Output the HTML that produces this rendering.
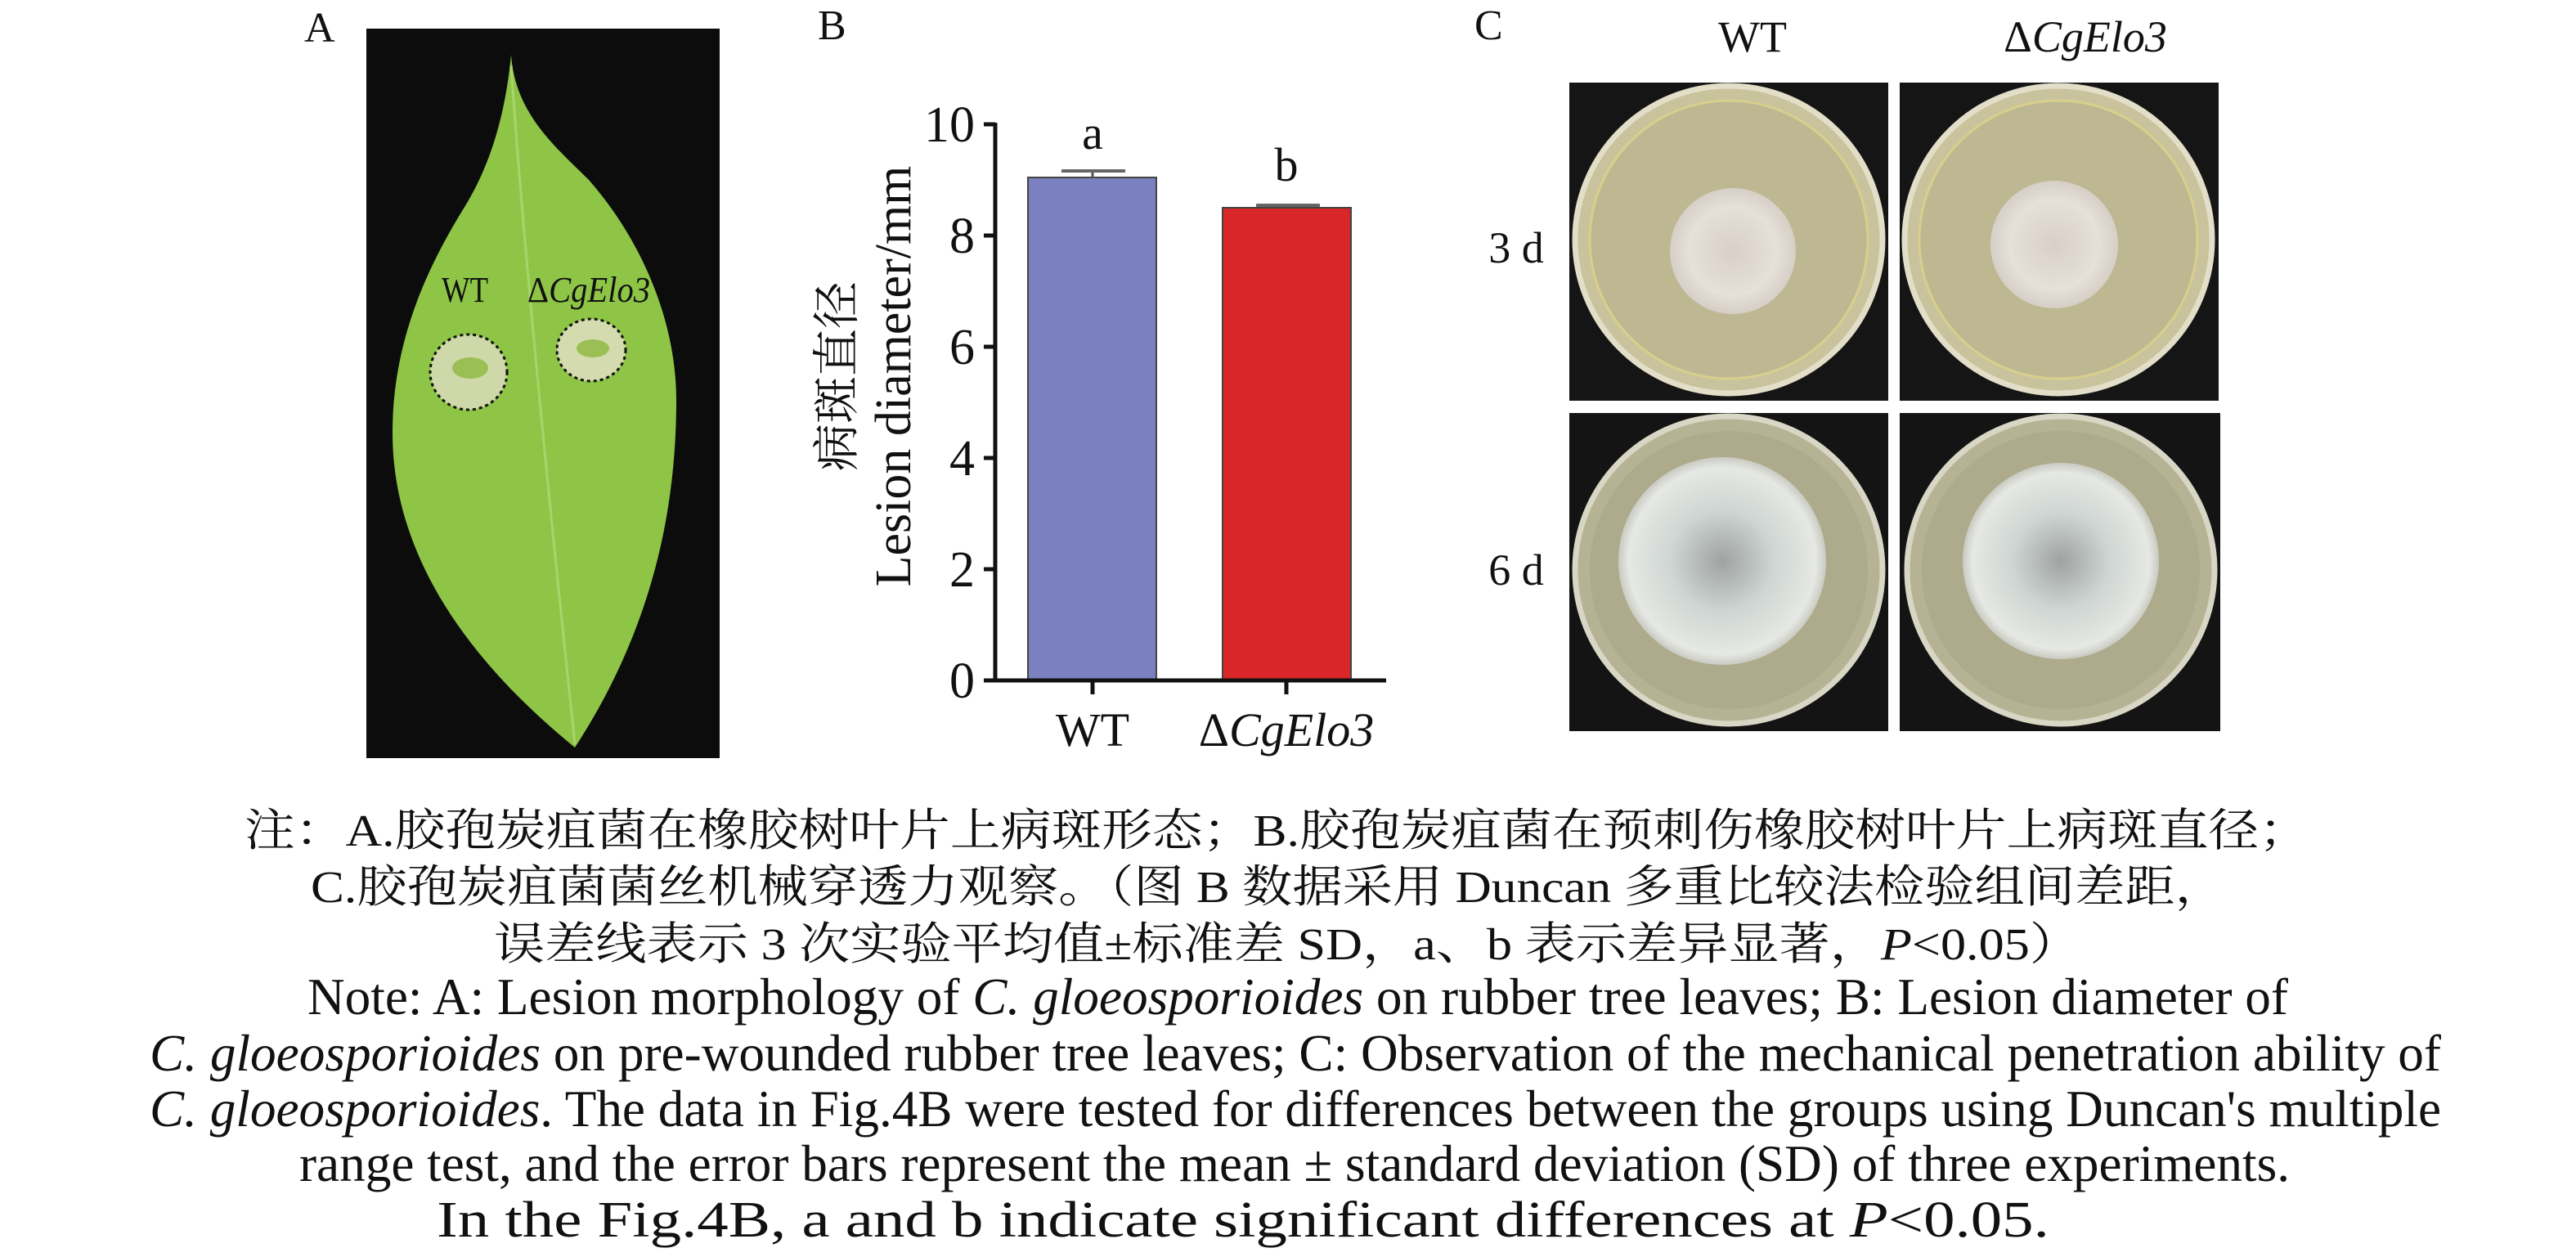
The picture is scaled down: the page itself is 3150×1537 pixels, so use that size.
<!DOCTYPE html>
<html><head><meta charset="utf-8"><style>
html,body{margin:0;padding:0;background:#fff}
svg{display:block}
text{font-family:"Liberation Serif","Noto Serif CJK SC","Noto Sans CJK SC",serif;fill:#111}
</style></head><body>
<svg width="3150" height="1537" viewBox="0 0 3150 1537" xmlns="http://www.w3.org/2000/svg">
<defs>
<radialGradient id="col" cx="50%" cy="50%" r="50%">
<stop offset="0" stop-color="#d8cfc8"/><stop offset="0.7" stop-color="#e6e0da"/><stop offset="1" stop-color="#d6cfc6"/>
</radialGradient>
<radialGradient id="col6" cx="50%" cy="50%" r="50%">
<stop offset="0" stop-color="#9fa3a2"/><stop offset="0.5" stop-color="#cfd6d3"/><stop offset="0.9" stop-color="#e6e8e4"/><stop offset="1" stop-color="#c9cbc2"/>
</radialGradient>
</defs>
<!-- Panel labels -->
<text x="372" y="51" font-size="52">A</text>
<text x="1000" y="48" font-size="52">B</text>
<text x="1803" y="48" font-size="52">C</text>

<!-- Leaf photo -->
<rect x="448" y="35" width="432" height="892" fill="#0c0c0c"/>
<path d="M625,67 C630,140 680,180 720,220 C790,300 827,400 827,489 C827,640 790,780 703,914 C600,830 480,700 480,529 C480,420 520,330 570,250 C600,200 618,140 625,67 Z" fill="#8ec546"/>
<path d="M625,80 C640,300 670,600 703,910" stroke="#a6d56a" stroke-width="3" fill="none"/>
<ellipse cx="573" cy="455" rx="47" ry="46" fill="#cfd8a8" stroke="#111" stroke-width="3" stroke-dasharray="4 4"/>
<ellipse cx="575" cy="450" rx="22" ry="13" fill="#9bbf55"/>
<ellipse cx="723" cy="428" rx="42" ry="38" fill="#d4dcaf" stroke="#111" stroke-width="3" stroke-dasharray="4 4"/>
<ellipse cx="725" cy="426" rx="20" ry="11" fill="#9bbf55"/>
<text x="540" y="369" font-size="44" textLength="57" lengthAdjust="spacingAndGlyphs">WT</text>
<text x="645" y="369" font-size="44" textLength="150" lengthAdjust="spacingAndGlyphs">Δ<tspan font-style="italic">CgElo3</tspan></text>

<!-- Bar chart -->
<rect x="1257" y="217" width="157" height="615" fill="#7b80c1" stroke="#444" stroke-width="2"/>
<rect x="1495" y="254" width="157" height="578" fill="#d92628" stroke="#444" stroke-width="2"/>
<line x1="1336" y1="217" x2="1336" y2="209" stroke="#555" stroke-width="3"/>
<line x1="1298" y1="209" x2="1376" y2="209" stroke="#666" stroke-width="4"/>
<line x1="1536" y1="251" x2="1614" y2="251" stroke="#666" stroke-width="4"/>
<g stroke="#111" stroke-width="5">
<line x1="1217" y1="150" x2="1217" y2="834"/>
<line x1="1203" y1="832" x2="1695" y2="832"/>
<line x1="1203" y1="152" x2="1217" y2="152"/>
<line x1="1203" y1="288" x2="1217" y2="288"/>
<line x1="1203" y1="424" x2="1217" y2="424"/>
<line x1="1203" y1="560" x2="1217" y2="560"/>
<line x1="1203" y1="696" x2="1217" y2="696"/>
<line x1="1336" y1="832" x2="1336" y2="849"/>
<line x1="1573" y1="832" x2="1573" y2="849"/>
</g>
<g font-size="62" text-anchor="end">
<text x="1192" y="173">10</text>
<text x="1192" y="309">8</text>
<text x="1192" y="445">6</text>
<text x="1192" y="581">4</text>
<text x="1192" y="717">2</text>
<text x="1192" y="853">0</text>
</g>
<text x="1336" y="182" font-size="58" text-anchor="middle">a</text>
<text x="1573" y="221" font-size="58" text-anchor="middle">b</text>
<text x="1336" y="912" font-size="58" text-anchor="middle">WT</text>
<text x="1573" y="912" font-size="58" text-anchor="middle">Δ<tspan font-style="italic">CgElo3</tspan></text>
<text transform="translate(1043,460) rotate(-90)" font-size="58" text-anchor="middle">病斑直径</text>
<text transform="translate(1113,460) rotate(-90)" font-size="62" text-anchor="middle">Lesion diameter/mm</text>

<!-- Panel C -->
<text x="2143" y="63" font-size="54" text-anchor="middle">WT</text>
<text x="2550" y="63" font-size="54" text-anchor="middle">Δ<tspan font-style="italic">CgElo3</tspan></text>
<text x="1854" y="321" font-size="54" text-anchor="middle">3 d</text>
<text x="1854" y="715" font-size="54" text-anchor="middle">6 d</text>

<rect x="1919" y="101" width="390" height="389" fill="#151515"/>
<rect x="2323" y="101" width="390" height="389" fill="#151515"/>
<rect x="1919" y="505" width="390" height="389" fill="#141414"/>
<rect x="2323" y="505" width="392" height="389" fill="#141414"/>

<circle cx="2114" cy="293" r="188" fill="#c8c39c" stroke="#e2dec8" stroke-width="7"/>
<circle cx="2114" cy="293" r="170" fill="#bdb892" stroke="#d8cf8c" stroke-width="3"/>
<circle cx="2119" cy="307" r="77" fill="url(#col)"/>
<circle cx="2517" cy="293" r="188" fill="#c8c39c" stroke="#e2dec8" stroke-width="7"/>
<circle cx="2517" cy="293" r="170" fill="#bdb892" stroke="#d8cf8c" stroke-width="3"/>
<circle cx="2512" cy="299" r="78" fill="url(#col)"/>

<circle cx="2114" cy="697" r="188" fill="#b6b394" stroke="#d8d6c4" stroke-width="7"/>
<circle cx="2114" cy="697" r="170" fill="#adab8c"/>
<circle cx="2106" cy="686" r="127" fill="url(#col6)"/>
<circle cx="2520" cy="697" r="188" fill="#b6b394" stroke="#d8d6c4" stroke-width="7"/>
<circle cx="2520" cy="697" r="170" fill="#adab8c"/>
<circle cx="2520" cy="686" r="120" fill="url(#col6)"/>

<!-- Caption -->
<g font-size="55">
<text x="299" y="1034" textLength="2525" lengthAdjust="spacingAndGlyphs">注：A.胶孢炭疽菌在橡胶树叶片上病斑形态；B.胶孢炭疽菌在预刺伤橡胶树叶片上病斑直径；</text>
<text x="380" y="1103" textLength="2341" lengthAdjust="spacingAndGlyphs">C.胶孢炭疽菌菌丝机械穿透力观察。（图 B 数据采用 Duncan 多重比较法检验组间差距，</text>
<text x="604" y="1173" textLength="1940" lengthAdjust="spacingAndGlyphs">误差线表示 3 次实验平均值±标准差 SD，a、b 表示差异显著，<tspan font-style="italic">P</tspan>&lt;0.05）</text>
</g>
<g font-size="64">
<text x="376" y="1240" textLength="2422" lengthAdjust="spacingAndGlyphs">Note: A: Lesion morphology of <tspan font-style="italic">C. gloeosporioides</tspan> on rubber tree leaves; B: Lesion diameter of</text>
<text x="183" y="1309" textLength="2802" lengthAdjust="spacingAndGlyphs"><tspan font-style="italic">C. gloeosporioides</tspan> on pre-wounded rubber tree leaves; C: Observation of the mechanical penetration ability of</text>
<text x="183" y="1377" textLength="2802" lengthAdjust="spacingAndGlyphs"><tspan font-style="italic">C. gloeosporioides</tspan>. The data in Fig.4B were tested for differences between the groups using Duncan's multiple</text>
<text x="366" y="1444" textLength="2434" lengthAdjust="spacingAndGlyphs">range test, and the error bars represent the mean ± standard deviation (SD) of three experiments.</text>
</g>
<text transform="translate(1520,1512) scale(1.24,1)" font-size="62" text-anchor="middle">In the Fig.4B, a and b indicate significant differences at <tspan font-style="italic">P</tspan>&lt;0.05.</text>
</svg>
</body></html>
